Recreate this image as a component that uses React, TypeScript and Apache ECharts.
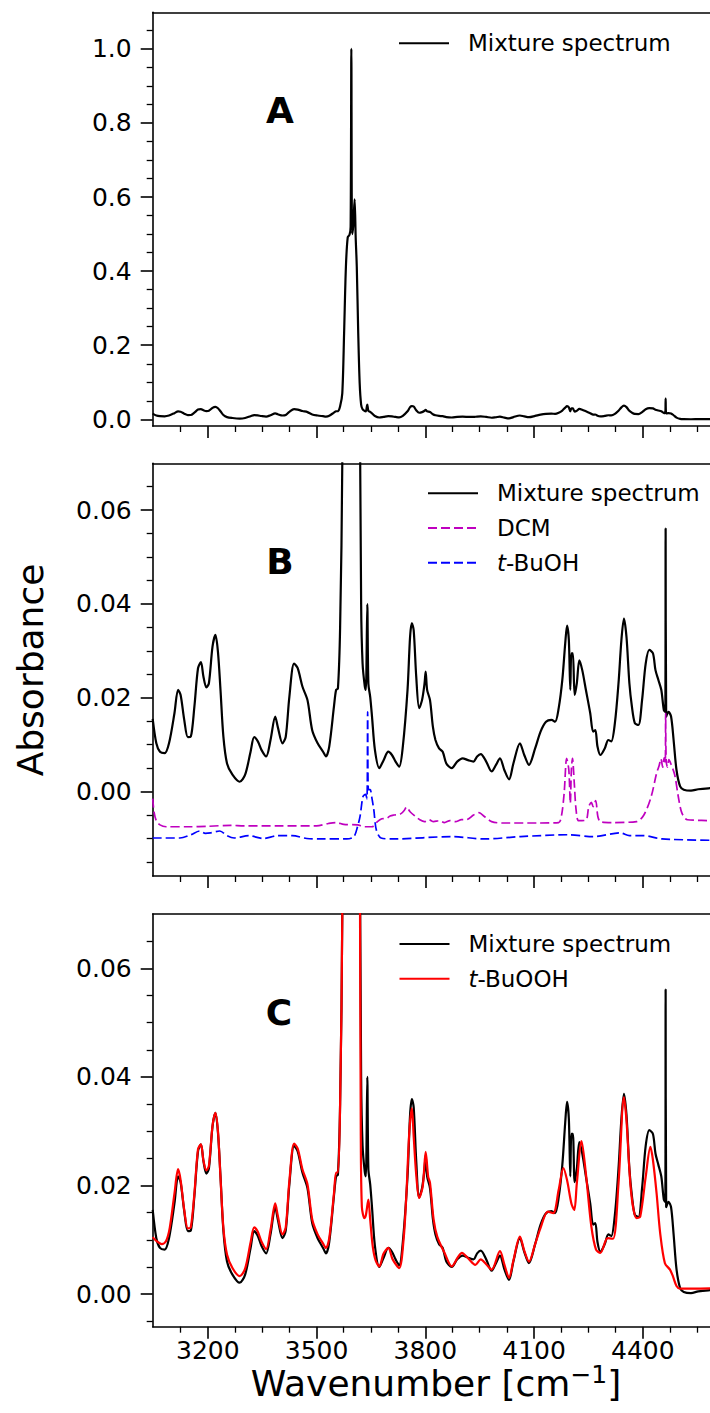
import React, { useEffect, useRef } from "react";
import * as echarts from "echarts";

// ---------- data (wavenumber [cm^-1], absorbance) ----------
const mixture: [number, number][] = [
  [3048, 0.0155], [3058, 0.0103], [3068, 0.0085], [3081, 0.0082], [3093, 0.0103],
  [3108, 0.0167], [3118, 0.0217], [3125, 0.0206], [3135, 0.0153], [3145, 0.0116],
  [3153, 0.0117], [3163, 0.0181], [3173, 0.0263], [3181, 0.0276], [3188, 0.0245],
  [3196, 0.0222], [3203, 0.0231], [3213, 0.0309], [3221, 0.0334], [3228, 0.0298],
  [3235, 0.0217], [3243, 0.0117], [3253, 0.006], [3268, 0.0036], [3288, 0.0021],
  [3303, 0.0036], [3318, 0.0085], [3328, 0.0116], [3338, 0.0107], [3348, 0.0089],
  [3361, 0.0075], [3373, 0.011], [3386, 0.016], [3393, 0.0138], [3406, 0.0103],
  [3415, 0.0117], [3425, 0.0202], [3438, 0.0273], [3448, 0.0263], [3461, 0.0224],
  [3475, 0.0195], [3488, 0.0131], [3503, 0.0103], [3518, 0.0085], [3526, 0.0075],
  [3535, 0.0096], [3548, 0.0181], [3554, 0.0217], [3559, 0.022], [3565, 0.035],
  [3571, 0.07], [3576, 0.232], [3581, 0.412], [3586, 0.491], [3591, 0.498],
  [3594, 0.52], [3596, 1.0], [3598, 0.5], [3601, 0.52], [3605, 0.594],
  [3608, 0.49], [3611, 0.412], [3615, 0.232], [3619, 0.097], [3623, 0.04],
  [3627, 0.0273], [3633, 0.0225], [3636, 0.0217], [3640, 0.04], [3643, 0.023],
  [3648, 0.0202], [3653, 0.016], [3661, 0.0089], [3673, 0.005], [3685, 0.0067],
  [3698, 0.0085], [3708, 0.0078], [3718, 0.0064], [3728, 0.0053], [3738, 0.0096],
  [3751, 0.0217], [3758, 0.033], [3763, 0.0359], [3768, 0.0344], [3775, 0.0245],
  [3783, 0.0178], [3791, 0.0195], [3798, 0.0231], [3801, 0.0256], [3805, 0.0217],
  [3813, 0.0195], [3821, 0.0138], [3828, 0.011], [3838, 0.0092], [3848, 0.0085],
  [3858, 0.006], [3873, 0.005], [3888, 0.0064], [3903, 0.0071], [3918, 0.0067],
  [3933, 0.0064], [3943, 0.0075], [3953, 0.008], [3968, 0.0064], [3983, 0.0043],
  [3995, 0.0057], [4006, 0.0071], [4018, 0.0046], [4031, 0.0026], [4043, 0.006],
  [4061, 0.0103], [4073, 0.0078], [4086, 0.0057], [4103, 0.0092], [4118, 0.0128],
  [4133, 0.0149], [4148, 0.0153], [4158, 0.0149], [4168, 0.0178], [4178, 0.0238],
  [4186, 0.0316], [4191, 0.0354], [4196, 0.0323], [4200, 0.0217], [4203, 0.0295],
  [4207, 0.0295], [4212, 0.0206], [4218, 0.0231], [4225, 0.028], [4233, 0.0259],
  [4243, 0.0217], [4255, 0.0167], [4263, 0.0128], [4269, 0.0131], [4275, 0.0096],
  [4283, 0.0078], [4295, 0.0092], [4305, 0.011], [4313, 0.0107], [4323, 0.0146],
  [4333, 0.0231], [4341, 0.0323], [4348, 0.0369], [4355, 0.033], [4363, 0.0231],
  [4370, 0.0181], [4378, 0.0146], [4388, 0.0142], [4398, 0.0195], [4408, 0.0273],
  [4418, 0.0302], [4428, 0.0295], [4435, 0.0259], [4443, 0.0238], [4451, 0.0217],
  [4458, 0.0174], [4462, 0.017], [4463, 0.0561], [4464.5, 0.016], [4471, 0.017],
  [4478, 0.016], [4485, 0.011], [4493, 0.0046], [4503, 0.0011], [4513, 0.0004],
  [4533, 0.0002], [4553, 0.0005], [4581, 0.0007], [4611, 0.0008],
];

const dcm: [number, number][] = [
  [3048, -0.0015], [3052, -0.0045], [3058, -0.0062], [3068, -0.0071], [3085, -0.0075],
  [3150, -0.0075], [3200, -0.0074], [3263, -0.0072], [3300, -0.0073], [3400, -0.0073],
  [3500, -0.0073], [3533, -0.0068], [3555, -0.0066], [3575, -0.007], [3613, -0.0071],
  [3633, -0.0075], [3653, -0.0075], [3668, -0.0064], [3680, -0.0058], [3693, -0.0057],
  [3703, -0.0052], [3713, -0.005], [3723, -0.0049], [3733, -0.0047], [3742, -0.004],
  [3748, -0.0033], [3758, -0.0043], [3773, -0.0053], [3785, -0.006], [3798, -0.0064],
  [3810, -0.006], [3823, -0.0064], [3838, -0.0062], [3853, -0.0066], [3868, -0.0062],
  [3883, -0.0064], [3900, -0.006], [3913, -0.006], [3933, -0.005], [3948, -0.0045],
  [3963, -0.0053], [3983, -0.0064], [4013, -0.0067], [4113, -0.0067], [4168, -0.0066],
  [4176, -0.005], [4183, -0.0004], [4190, 0.0071], [4196, 0.0046], [4200, -0.0025],
  [4203, 0.0046], [4206, 0.0071], [4211, 0.0018], [4216, -0.0039], [4223, -0.0062],
  [4243, -0.0061], [4251, -0.0032], [4258, -0.0023], [4263, -0.0032], [4270, -0.0019],
  [4276, -0.0053], [4283, -0.0064], [4313, -0.0066], [4383, -0.0064], [4403, -0.005],
  [4423, -0.0011], [4438, 0.0039], [4445, 0.0055], [4450, 0.007], [4455, 0.0052],
  [4459, 0.0072], [4462, 0.0062], [4463, 0.0167], [4464.5, 0.0066], [4468, 0.0052],
  [4472, 0.0068], [4478, 0.0058], [4488, 0.0036], [4498, -0.0011], [4508, -0.0046],
  [4523, -0.006], [4611, -0.0062],
];

const tBuOH: [number, number][] = [
  [3048, -0.0099], [3123, -0.0099], [3153, -0.0092], [3178, -0.0084], [3193, -0.0089],
  [3208, -0.0088], [3233, -0.0084], [3253, -0.0094], [3273, -0.0099], [3313, -0.0094],
  [3353, -0.01], [3393, -0.0094], [3433, -0.0094], [3473, -0.01], [3513, -0.0101],
  [3583, -0.0101], [3603, -0.0096], [3613, -0.0075], [3620, -0.0053], [3628, -0.0011],
  [3635, -0.0006], [3639, -0.0015], [3641, 0.017], [3643, 0.0004], [3648, 0.0004],
  [3653, -0.0015], [3658, -0.0039], [3665, -0.0082], [3678, -0.0099], [3713, -0.0101],
  [3873, -0.0096], [3963, -0.0101], [4063, -0.0096], [4193, -0.0092], [4263, -0.0096],
  [4338, -0.0088], [4363, -0.0094], [4403, -0.0094], [4453, -0.0101], [4611, -0.0104],
];

const tBuOOH: [number, number][] = [
  [3048, 0.0105], [3058, 0.0098], [3073, 0.0092], [3085, 0.0098], [3095, 0.0122],
  [3108, 0.0185], [3118, 0.023], [3125, 0.021], [3135, 0.0155], [3145, 0.0121],
  [3153, 0.0123], [3163, 0.0185], [3173, 0.0267], [3181, 0.0276], [3188, 0.0246],
  [3196, 0.0228], [3203, 0.0236], [3213, 0.031], [3221, 0.0334], [3228, 0.03],
  [3235, 0.0215], [3243, 0.0122], [3253, 0.0073], [3268, 0.0048], [3288, 0.0033],
  [3303, 0.0047], [3318, 0.0095], [3328, 0.0123], [3338, 0.0115], [3348, 0.0097],
  [3361, 0.0083], [3373, 0.0118], [3386, 0.0167], [3393, 0.0145], [3406, 0.011],
  [3415, 0.0123], [3425, 0.0208], [3438, 0.0277], [3448, 0.0268], [3461, 0.023],
  [3475, 0.0202], [3488, 0.0138], [3503, 0.011], [3518, 0.0093], [3526, 0.0085],
  [3535, 0.0103], [3548, 0.0185], [3554, 0.0224], [3559, 0.0224], [3565, 0.035],
  [3571, 0.07], [3576, 0.23], [3581, 0.4], [3590, 0.48], [3600, 0.5],
  [3610, 0.4], [3615, 0.23], [3619, 0.097], [3622, 0.03], [3625, 0.0161],
  [3632, 0.014], [3636, 0.0145], [3643, 0.0174], [3648, 0.0137], [3655, 0.0088],
  [3663, 0.0062], [3673, 0.0051], [3685, 0.0075], [3698, 0.0085], [3710, 0.0064],
  [3728, 0.0048], [3740, 0.01], [3748, 0.0186], [3756, 0.03], [3763, 0.0342],
  [3768, 0.029], [3775, 0.022], [3783, 0.0177], [3793, 0.0199], [3801, 0.0262],
  [3808, 0.0216], [3813, 0.0205], [3823, 0.0137], [3833, 0.0106], [3853, 0.0076],
  [3873, 0.0051], [3890, 0.0068], [3901, 0.0076], [3918, 0.0066], [3938, 0.0054],
  [3953, 0.0064], [3968, 0.0055], [3983, 0.0045], [4006, 0.0079], [4018, 0.0055],
  [4031, 0.003], [4043, 0.0062], [4061, 0.0106], [4073, 0.008], [4086, 0.006],
  [4103, 0.0092], [4118, 0.0122], [4138, 0.0152], [4153, 0.0149], [4168, 0.0192],
  [4181, 0.0232], [4191, 0.021], [4203, 0.0167], [4211, 0.0155], [4218, 0.0204],
  [4231, 0.0282], [4243, 0.0222], [4258, 0.0125], [4271, 0.0082], [4283, 0.0076],
  [4303, 0.0103], [4318, 0.0102], [4333, 0.0204], [4348, 0.0363], [4355, 0.032],
  [4368, 0.0186], [4383, 0.014], [4393, 0.0143], [4408, 0.0216], [4421, 0.0271],
  [4428, 0.0247], [4438, 0.0186], [4448, 0.0112], [4461, 0.0057], [4475, 0.0045],
  [4483, 0.0033], [4493, 0.0015], [4503, 0.001], [4611, 0.0011],
];

// ---------- ticks ----------
const xMajorTicks = [3200, 3500, 3800, 4100, 4400];
const xMinorTicks = [3125, 3275, 3350, 3425, 3575, 3650, 3725, 3875, 3950, 4025, 4175, 4250, 4325, 4475, 4550];
const yMajorA = [0, 0.2, 0.4, 0.6, 0.8, 1.0];
const yMinorA = [0.05, 0.1, 0.15, 0.25, 0.3, 0.35, 0.45, 0.5, 0.55, 0.65, 0.7, 0.75, 0.85, 0.9, 0.95, 1.05];
const yMajorBC = [0, 0.02, 0.04, 0.06];
const yMinorB = [-0.015, -0.01, -0.005, 0.005, 0.01, 0.015, 0.025, 0.03, 0.035, 0.045, 0.05, 0.055, 0.065];
const yMinorC = [-0.005, 0.005, 0.01, 0.015, 0.025, 0.03, 0.035, 0.045, 0.05, 0.055, 0.065];

const FONT = "DejaVu Sans";
const XMIN = 3048;
const XMAX = 4585.4; // value at the right edge of the (cropped) picture

const panels = [
  { top: 12.3, height: 413.7, ymin: -0.018, ymax: 1.0985, major: yMajorA, minor: yMinorA, digits: 1 },
  { top: 463.3, height: 412.7, ymin: -0.018, ymax: 0.07, major: yMajorBC, minor: yMinorB, digits: 2 },
  { top: 914, height: 412.7, ymin: -0.006, ymax: 0.07, major: yMajorBC, minor: yMinorC, digits: 2 },
];

export default function App() {
  const ref = useRef<HTMLDivElement>(null);
  useEffect(() => {
    if (!ref.current) return;
    const chart = echarts.init(ref.current, undefined, { renderer: "svg" });
    const black = "#000000";
    const grid = panels.map((p) => ({ left: 152.7, right: 0, top: p.top, height: p.height, containLabel: false }));
    const xAxis: any[] = [];
    const yAxis: any[] = [];
    panels.forEach((p, g) => {
      xAxis.push({
        type: "value", gridIndex: g, min: XMIN, max: XMAX, position: "bottom",
        axisLine: { show: true, onZero: false, lineStyle: { color: black, width: 1.6 } },
        axisTick: { show: true, customValues: xMajorTicks, length: 12, lineStyle: { color: black, width: 1.6 } },
        axisLabel: {
          show: g === 2, customValues: xMajorTicks, margin: 11, fontSize: 25, fontFamily: FONT, color: black,
          formatter: (v: number) => String(v),
        },
        splitLine: { show: false },
      });
      xAxis.push({
        type: "value", gridIndex: g, min: XMIN, max: XMAX, position: "bottom",
        axisLine: { show: false, onZero: false },
        axisTick: { show: true, customValues: xMinorTicks, length: 6, lineStyle: { color: black, width: 1.3 } },
        axisLabel: { show: false },
        splitLine: { show: false },
      });
      xAxis.push({
        type: "value", gridIndex: g, min: XMIN, max: XMAX, position: "top",
        axisLine: { show: true, onZero: false, lineStyle: { color: black, width: 1.6 } },
        axisTick: { show: false }, axisLabel: { show: false }, splitLine: { show: false },
      });
      yAxis.push({
        type: "value", gridIndex: g, min: p.ymin, max: p.ymax, position: "left",
        axisLine: { show: true, onZero: false, lineStyle: { color: black, width: 1.6 } },
        axisTick: { show: true, customValues: p.major, length: 12, lineStyle: { color: black, width: 1.6 } },
        axisLabel: {
          show: true, customValues: p.major, margin: 21, fontSize: 25, fontFamily: FONT, color: black,
          formatter: (v: number) => v.toFixed(p.digits),
        },
        splitLine: { show: false },
      });
      yAxis.push({
        type: "value", gridIndex: g, min: p.ymin, max: p.ymax, position: "left",
        axisLine: { show: false, onZero: false },
        axisTick: { show: true, customValues: p.minor, length: 6, lineStyle: { color: black, width: 1.3 } },
        axisLabel: { show: false }, splitLine: { show: false },
      });
    });

    const line = (name: string, data: [number, number][], g: number, color: string, width: number, dashed: boolean) => ({
      type: "line", name, data, xAxisIndex: 3 * g, yAxisIndex: 2 * g,
      symbol: "none", showSymbol: false, clip: true, silent: true,
      smooth: 0.3,
      lineStyle: { color, width, type: dashed ? [9, 4] : "solid" },
      itemStyle: { color },
      emphasis: { disabled: true },
    });

    const series = [
      line("Mixture spectrum", mixture, 0, black, 2.2, false),
      line("Mixture spectrum", mixture, 1, black, 2.2, false),
      line("DCM", dcm, 1, "#bf00bf", 1.7, true),
      line("t-BuOH", tBuOH, 1, "#0000ff", 1.7, true),
      line("Mixture spectrum", mixture, 2, black, 2.2, false),
      line("t-BuOOH", tBuOOH, 2, "#ff0000", 2.2, false),
    ];

    const legendBase = {
      orient: "vertical", padding: 0, itemWidth: 50, itemHeight: 14, itemGap: 10.7,
      selectedMode: false,
      itemStyle: { opacity: 0, borderWidth: 0 },
      textStyle: {
        fontSize: 23, fontFamily: FONT, color: black, lineHeight: 24, padding: [0, 0, 0, 14],
        rich: { i: { fontStyle: "italic", fontSize: 23, fontFamily: FONT, color: black } },
      },
      formatter: (n: string) => (n.startsWith("t-") ? "{i|t}" + n.slice(1) : n),
    };

    const legend = [
      { ...legendBase, left: 398, top: 31.3, data: ["Mixture spectrum"] },
      { ...legendBase, left: 427, top: 481.3, data: ["Mixture spectrum", "DCM", "t-BuOH"] },
      { ...legendBase, left: 398.5, top: 932, data: ["Mixture spectrum", "t-BuOOH"] },
    ];

    const txt = (text: string, x: number, y: number, size: number, weight: string, rotation = 0) => ({
      type: "text", x, y, rotation, silent: true,
      style: {
        text, fontSize: size, fontWeight: weight, fontFamily: FONT, fill: black,
        align: "center", verticalAlign: "middle", textAlign: "center", textVerticalAlign: "middle",
      },
    });

    const xTitle = {
      type: "text", x: 436, y: 1383, silent: true,
      style: {
        text: "Wavenumber [cm{sup|\u22121}]",
        fontSize: 36, fontFamily: FONT, fill: black, lineHeight: 42,
        align: "center", verticalAlign: "middle", textAlign: "center", textVerticalAlign: "middle",
        rich: { sup: { fontSize: 25, fontFamily: FONT, fill: black, color: black, lineHeight: 28, verticalAlign: "top" } },
      },
    };

    chart.setOption({
      animation: false,
      backgroundColor: "#ffffff",
      grid, xAxis, yAxis, series, legend,
      graphic: [
        txt("A", 280, 110, 36, "bold"),
        txt("B", 280, 561, 36, "bold"),
        txt("C", 279, 1012, 36, "bold"),
        txt("Absorbance", 30, 670, 36, "normal", Math.PI / 2),
        xTitle,
      ],
    });
    return () => chart.dispose();
  }, []);
  return <div ref={ref} style={{ position: "absolute", left: 0, top: 0, width: 710, height: 1413 }} />;
}
